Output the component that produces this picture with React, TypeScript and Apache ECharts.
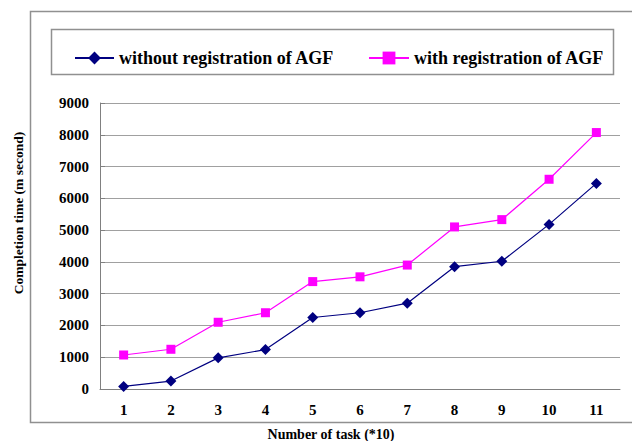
import React, { useEffect, useRef } from "react";
import * as echarts from "echarts";

const categories = ["1", "2", "3", "4", "5", "6", "7", "8", "9", "10", "11"];
const withoutAGF = [80, 250, 980, 1240, 2250, 2400, 2700, 3850, 4020, 5180, 6470];
const withAGF = [1070, 1250, 2100, 2400, 3380, 3530, 3900, 5100, 5330, 6600, 8070];
const seriesNames = ["without registration of AGF", "with registration of AGF"];
const yTitle = "Completion time (m second)";
const xTitle = "Number of task (*10)";

const FONT = "'Liberation Serif', 'Times New Roman', serif";

export default function App() {
  const ref = useRef<HTMLDivElement>(null);
  useEffect(() => {
    if (!ref.current) return;
    const chart = echarts.init(ref.current, null, { renderer: "svg" });
    const legendText = { fontFamily: FONT, fontWeight: "bold", fontSize: 18, color: "#000", lineHeight: 16 };
    chart.setOption({
      animation: false,
      backgroundColor: "#ffffff",
      grid: { left: 100, right: 12, top: 103, bottom: 52, containLabel: false },
      legend: [
        {
          left: 69,
          top: 44,
          itemWidth: 39,
          itemHeight: 16,
          textStyle: legendText,
          data: [seriesNames[0]],
        },
        {
          left: 363,
          top: 44,
          itemWidth: 40,
          itemHeight: 16,
          textStyle: legendText,
          data: [seriesNames[1]],
        },
      ],
      xAxis: {
        type: "category",
        data: categories,
        boundaryGap: true,
        axisLine: { lineStyle: { color: "#808080", width: 1 } },
        axisTick: { inside: true, length: 4, alignWithLabel: false, lineStyle: { color: "#808080" } },
        axisLabel: { margin: 13, fontFamily: FONT, fontWeight: "bold", fontSize: 15, color: "#000" },
        splitLine: { show: false },
      },
      yAxis: {
        type: "value",
        min: 0,
        max: 9000,
        interval: 1000,
        axisLine: { show: true, lineStyle: { color: "#808080", width: 1 } },
        axisTick: { show: true, inside: true, length: 5, lineStyle: { color: "#808080" } },
        axisLabel: {
          margin: 11,
          fontFamily: FONT,
          fontWeight: "bold",
          fontSize: 15,
          color: "#000",
          formatter: (v: number) => String(v),
        },
        splitLine: { show: true, lineStyle: { color: "#a0a0a0", width: 1 } },
      },
      series: [
        {
          name: seriesNames[0],
          type: "line",
          data: withoutAGF,
          symbol: "diamond",
          symbolSize: 11,
          color: "#000080",
          lineStyle: { width: 1.2, color: "#000080" },
          itemStyle: { color: "#000080" },
        },
        {
          name: seriesNames[1],
          type: "line",
          data: withAGF,
          symbol: "rect",
          symbolSize: 9,
          color: "#ff00ff",
          lineStyle: { width: 1.2, color: "#ff00ff" },
          itemStyle: { color: "#ff00ff" },
        },
      ],
      graphic: [
        {
          type: "rect",
          shape: { x: 30.5, y: 11.5, width: 620, height: 411 },
          style: { fill: "none", stroke: "#909090", lineWidth: 1.5 },
          z: -1,
        },
        {
          type: "rect",
          shape: { x: 51.5, y: 29.5, width: 562, height: 45 },
          style: { fill: "none", stroke: "#909090", lineWidth: 1.5 },
          z: -1,
        },
        {
          type: "text",
          x: 18,
          y: 213,
          rotation: Math.PI / 2,
          style: {
            text: yTitle,
            fontFamily: FONT,
            fontWeight: "bold",
            fontSize: 13.5,
            fill: "#000",
            align: "center",
            verticalAlign: "middle",
          },
        },
        {
          type: "text",
          x: 331,
          y: 434,
          style: {
            text: xTitle,
            fontFamily: FONT,
            fontWeight: "bold",
            fontSize: 14,
            fill: "#000",
            align: "center",
            verticalAlign: "middle",
          },
        },
      ],
    });
    return () => chart.dispose();
  }, []);
  return (
    <div
      ref={ref}
      style={{ position: "fixed", left: 0, top: 0, width: 632, height: 441, background: "#fff" }}
    />
  );
}
